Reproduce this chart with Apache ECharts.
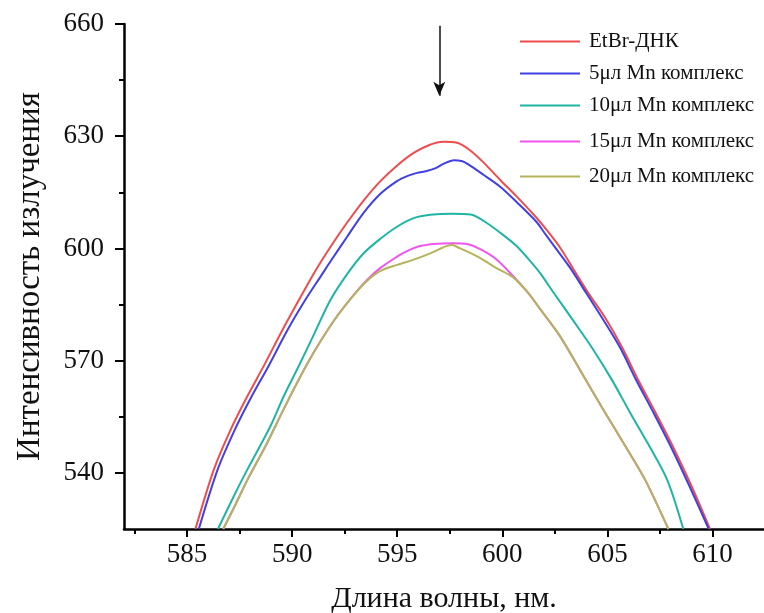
<!DOCTYPE html>
<html>
<head>
<meta charset="utf-8">
<script src="https://cdn.jsdelivr.net/npm/echarts@6/dist/echarts.min.js"></script>
<style>
html,body{margin:0;padding:0;background:#fff;}
#chart{width:764px;height:613px;}
</style>
</head>
<body>
<div id="chart"></div>
<script>
// ---- data (wavelength nm, intensity) ----
const seriesNames = ['EtBr-ДНК', '5μл Mn комплекс', '10μл Mn комплекс', '15μл Mn комплекс', '20μл Mn комплекс'];
const seriesColors = ['#ee4d4d', '#4040e4', '#1fb5a3', '#f055ee', '#b4b45a'];

const etbrDNA = [[585.40,525],[586.27,540.8],[587.07,551.5],[587.86,560.4],[588.65,568.6],[589.52,578.0],[590.3,586.0],[591.06,593.6],[591.82,600.4],[592.6,606.8],[593.4,612.8],[594.2,618.0],[595.0,622.2],[595.8,625.6],[596.5,627.6],[597.2,628.5],[597.8,628.3],[598.4,626.5],[599.1,623.0],[599.9,618.3],[600.7,613.8],[601.5,609.0],[602.1,605.0],[602.8,599.8],[603.4,594.3],[604.1,588.0],[604.9,581.4],[605.7,573.5],[606.46,564.9],[607.3,556.0],[608.12,547.0],[609.0,536.5],[609.88,525]];

const mn5 = [[585.56,525],[586.45,540.8],[587.27,551.5],[588.07,560.4],[588.88,568.6],[589.76,578.0],[590.6,586.0],[591.39,592.8],[591.82,596.5],[592.6,603.0],[593.4,609.5],[594.2,614.6],[594.99,618.0],[595.5,619.4],[595.94,620.2],[596.4,620.7],[596.8,621.4],[597.2,622.6],[597.7,623.6],[598.1,623.3],[598.4,622.4],[599.1,619.7],[599.9,616.5],[600.7,612.3],[601.64,607.0],[602.0,604.2],[602.6,599.6],[603.3,594.2],[604.0,588.0],[604.75,581.4],[605.6,573.5],[606.36,564.9],[607.2,556.0],[608.02,547.0],[608.9,536.5],[609.82,525]];

const mn10 = [[586.47,525],[587.2,533.5],[587.86,540.8],[588.96,552.4],[589.6,560.5],[590.31,568.5],[591.06,577.3],[591.82,586.2],[592.6,593.0],[593.4,598.7],[594.2,602.6],[594.99,605.8],[595.78,608.1],[596.57,609.0],[597.6,609.3],[598.5,609.1],[599.1,607.4],[599.9,604.2],[600.69,600.6],[601.33,596.6],[601.8,593.4],[602.4,588.5],[603.4,580.5],[604.32,573.0],[605.2,565.0],[606.08,556.1],[606.96,547.5],[607.84,538.2],[608.61,525]];

const mn15 = [[586.72,525],[587.3,531.5],[587.86,538.0],[588.81,548.0],[589.55,556.5],[590.31,564.9],[591.06,572.5],[592.0,580.8],[592.93,587.6],[593.6,591.8],[594.2,594.8],[594.8,597.1],[595.3,598.8],[596.0,600.5],[596.73,601.2],[597.68,601.4],[598.32,601.2],[598.95,599.8],[599.74,597.0],[600.53,592.5],[601.2,588.3],[601.8,583.8],[602.75,576.5],[603.8,566.5],[604.89,556.1],[605.85,547.2],[606.79,538.2],[607.9,525]];

const mn20 = [[586.72,525],[587.3,531.5],[587.86,538.0],[588.81,548.0],[589.55,556.5],[590.31,564.9],[591.06,572.5],[592.0,580.8],[592.93,587.5],[593.6,591.5],[594.2,594.0],[594.99,595.6],[595.78,597.0],[596.57,598.7],[597.0,599.8],[597.37,600.7],[597.6,600.9],[598.0,600.0],[598.32,599.2],[598.95,597.4],[599.74,594.7],[600.53,592.2],[601.2,588.3],[601.8,583.8],[602.75,576.5],[603.8,566.5],[604.89,556.1],[605.85,547.2],[606.79,538.2],[607.9,525]];

const xLabelValues = [585, 590, 595, 600, 605, 610];
const xMinorTicks = [582.5, 587.5, 592.5, 597.5, 602.5, 607.5];
const yLabelValues = [540, 570, 600, 630, 660];
const yMinorTicks = [555, 585, 615, 645];
const arrowX = 597;
const arrowFrom = 659.5;
const arrowTo = 640.8;

const allData = [etbrDNA, mn5, mn10, mn15, mn20];
const FONT = "'Liberation Serif', 'Times New Roman', serif";

const chart = echarts.init(document.getElementById('chart'), null, {renderer: 'canvas'});

const series = allData.map((d, i) => ({
  name: seriesNames[i],
  type: 'line',
  data: d,
  xAxisIndex: 0,
  yAxisIndex: 0,
  showSymbol: false,
  symbol: 'none',
  smooth: 0.3,
  lineStyle: {color: seriesColors[i], width: 2},
  itemStyle: {color: seriesColors[i]},
  z: 2 + i,
  silent: true,
  animation: false
}));

series[0].markLine = {
  silent: true,
  symbol: ['none', 'arrow'],
  symbolSize: [9, 14],
  label: {show: false},
  lineStyle: {color: '#111', width: 1.5, type: 'solid'},
  data: [[{coord: [arrowX, arrowFrom]}, {coord: [arrowX, arrowTo]}]]
};

const legendBase = {
  orient: 'vertical',
  left: 515,
  padding: 5,
  itemWidth: 60,
  itemHeight: 14,
  icon: 'path://M0,6 L60,6 L60,8 L0,8 Z',
  textStyle: {fontFamily: FONT, fontSize: 21, color: '#111', padding: [0, 0, 0, 4]},
  selectedMode: false
};

const option = {
  backgroundColor: '#fff',
  animation: false,
  textStyle: {fontFamily: FONT},
  grid: {left: 124, top: 24, right: 0, bottom: 84, containLabel: false, outerBoundsMode: 'none'},
  legend: [
    Object.assign({}, legendBase, {data: seriesNames.slice(0, 3), top: 26, itemGap: 11}),
    Object.assign({}, legendBase, {data: seriesNames.slice(3), top: 126, itemGap: 14})
  ],
  xAxis: [{
    type: 'value',
    min: 582,
    max: 612.45,
    position: 'bottom',
    name: 'Длина волны, нм.',
    nameLocation: 'middle',
    nameGap: 55,
    nameTextStyle: {fontFamily: FONT, fontSize: 30, color: '#111'},
    axisLine: {show: true, onZero: false, lineStyle: {color: '#000', width: 2.5}},
    axisTick: {show: true, customValues: xLabelValues, length: 8, lineStyle: {color: '#000', width: 2}},
    axisLabel: {show: true, customValues: xLabelValues, margin: 12, fontFamily: FONT, fontSize: 27, color: '#111'},
    splitLine: {show: false}
  }, {
    type: 'value',
    min: 582,
    max: 612.45,
    position: 'bottom',
    axisLine: {show: false},
    axisTick: {show: true, customValues: xMinorTicks, length: 5, lineStyle: {color: '#000', width: 2}},
    axisLabel: {show: false},
    splitLine: {show: false}
  }],
  yAxis: [{
    type: 'value',
    min: 525,
    max: 660,
    position: 'left',
    name: 'Интенсивность излучения',
    nameLocation: 'middle',
    nameGap: 77,
    nameTextStyle: {fontFamily: FONT, fontSize: 33, color: '#111'},
    axisLine: {show: true, onZero: false, lineStyle: {color: '#000', width: 2.5}},
    axisTick: {show: true, customValues: yLabelValues, length: 9, lineStyle: {color: '#000', width: 2}},
    axisLabel: {show: true, customValues: yLabelValues, margin: 20, fontFamily: FONT, fontSize: 27, color: '#111'},
    splitLine: {show: false}
  }, {
    type: 'value',
    min: 525,
    max: 660,
    position: 'left',
    axisLine: {show: false},
    axisTick: {show: true, customValues: yMinorTicks, length: 5, lineStyle: {color: '#000', width: 2}},
    axisLabel: {show: false},
    splitLine: {show: false}
  }],
  series: series
};

chart.setOption(option);
</script>
</body>
</html>
